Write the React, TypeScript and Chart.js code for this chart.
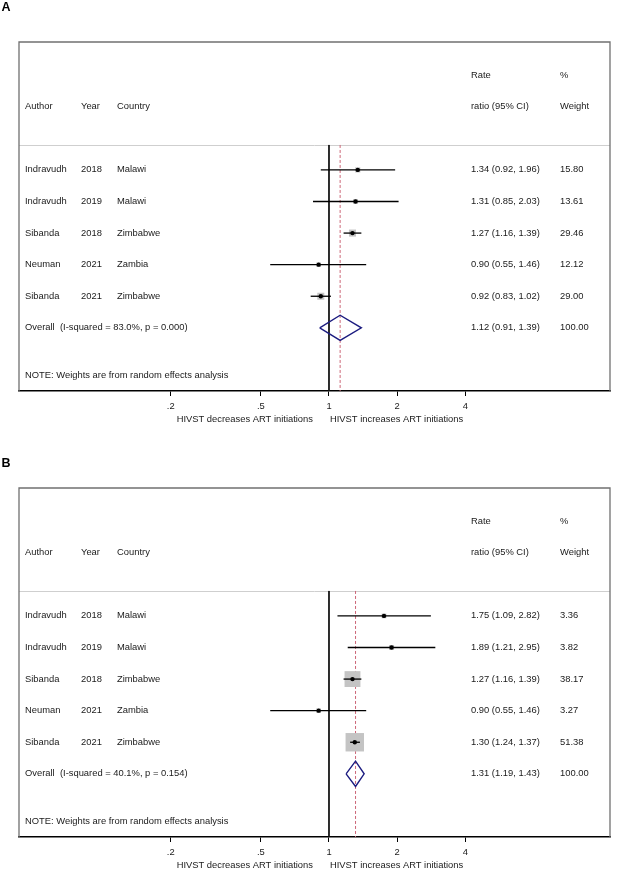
import React, { useEffect, useRef } from "react";
import { Chart, registerables } from "chart.js";

Chart.register(...registerables);

// ---------- data ----------
const AUTHORS = ["Indravudh", "Indravudh", "Sibanda", "Neuman", "Sibanda"];
const YEARS = ["2018", "2019", "2018", "2021", "2021"];
const COUNTRIES = ["Malawi", "Malawi", "Zimbabwe", "Zambia", "Zimbabwe"];

const A_EST = [1.34, 1.31, 1.27, 0.9, 0.92];
const A_LO = [0.92, 0.85, 1.16, 0.55, 0.83];
const A_HI = [1.96, 2.03, 1.39, 1.46, 1.02];
const A_WEIGHT = [15.8, 13.61, 29.46, 12.12, 29.0];
const A_OVERALL = [1.12, 0.91, 1.39];
const A_HET = "Overall  (I-squared = 83.0%, p = 0.000)";

const B_EST = [1.75, 1.89, 1.27, 0.9, 1.3];
const B_LO = [1.09, 1.21, 1.16, 0.55, 1.24];
const B_HI = [2.82, 2.95, 1.39, 1.46, 1.37];
const B_WEIGHT = [3.36, 3.82, 38.17, 3.27, 51.38];
const B_OVERALL = [1.31, 1.19, 1.43];
const B_HET = "Overall  (I-squared = 40.1%, p = 0.154)";

const TICKS = [0.2, 0.5, 1, 2, 4];
const TICK_LABELS = [".2", ".5", "1", "2", "4"];

const HEADER_TOP = ["", "", "", "Rate", "%"];
const HEADER_BOTTOM = ["Author", "Year", "Country", "ratio (95% CI)", "Weight"];
const NOTE = "NOTE: Weights are from random effects analysis";
const X_LEFT_LABEL = "HIVST decreases ART initiations";
const X_RIGHT_LABEL = "HIVST increases ART initiations";

// ---------- style ----------
const FONT = "'Liberation Sans', Arial, Helvetica, sans-serif";
const TEXT_COLOR = "#1a1a1a";
const FONT_SIZE = 9.4;
const CANVAS_W = 625;
const CANVAS_H = 446;
const COL_X = [25, 81, 117, 471, 560];
const Y_MIN = -4.05;
const Y_MAX = 7;
const SEP_ROW = -0.79;
const X_MIN = 0.0427;
const X_MAX = 17.44;

interface PanelProps {
  top: number;
  letter: string;
  letterY: number;
  est: number[];
  lo: number[];
  hi: number[];
  weight: number[];
  overall: number[];
  het: string;
  boxScale: number;
}

function Panel(p: PanelProps) {
  const ref = useRef<HTMLCanvasElement>(null);
  useEffect(() => {
    if (!ref.current) return;
    const n = p.est.length;
    const overallRow = n;
    const datasets: any[] = [];

    // dots (top)
    datasets.push({
      data: p.est.map((v, i) => ({ x: v, y: i })),
      pointStyle: "circle",
      pointRadius: 2.2,
      backgroundColor: "#000",
      borderWidth: 0,
      order: 1,
    });
    // CI lines
    p.est.forEach((_, i) => {
      datasets.push({
        data: [
          { x: p.lo[i], y: i },
          { x: p.hi[i], y: i },
        ],
        showLine: true,
        borderColor: "#000",
        borderWidth: 1.3,
        pointRadius: 0,
        order: 2,
      });
    });
    // weight squares
    datasets.push({
      data: p.est.map((v, i) => ({ x: v, y: i })),
      pointStyle: "rect",
      pointRadius: (ctx: any) =>
        (p.boxScale * Math.sqrt(p.weight[ctx.dataIndex] || 0)) / Math.SQRT2,
      backgroundColor: "#c4c4c4",
      borderWidth: 0,
      order: 3,
    });
    // diamond
    const h = 0.4;
    datasets.push({
      data: [
        { x: p.overall[1], y: overallRow },
        { x: p.overall[0], y: overallRow - h },
        { x: p.overall[2], y: overallRow },
        { x: p.overall[0], y: overallRow + h },
        { x: p.overall[1], y: overallRow },
      ],
      showLine: true,
      borderColor: "#1c1c80",
      borderWidth: 1.4,
      pointRadius: 0,
      tension: 0,
      order: 2,
    });
    // null line
    datasets.push({
      data: [
        { x: 1, y: SEP_ROW },
        { x: 1, y: Y_MAX },
      ],
      showLine: true,
      borderColor: "#111",
      borderWidth: 1,
      pointRadius: 0,
      order: 5,
    });
    // overall dashed line
    datasets.push({
      data: [
        { x: p.overall[0], y: SEP_ROW },
        { x: p.overall[0], y: Y_MAX },
      ],
      showLine: true,
      borderColor: "#cc6677",
      borderWidth: 1,
      borderDash: [3, 2],
      pointRadius: 0,
      order: 4,
    });

    const textPlugin = {
      id: "forestText",
      beforeDatasetsDraw(chart: any) {
        const { ctx, chartArea, scales } = chart;
        const y = scales.y;
        ctx.save();
        ctx.strokeStyle = "#cfcfcf";
        ctx.lineWidth = 1;
        ctx.beginPath();
        const sy = Math.round(y.getPixelForValue(SEP_ROW)) + 0.5;
        ctx.moveTo(chartArea.left, sy);
        ctx.lineTo(chartArea.right, sy);
        ctx.stroke();
        ctx.restore();
      },
      afterDraw(chart: any) {
        const { ctx, chartArea, scales } = chart;
        const y = scales.y;
        const x = scales.x;
        ctx.save();
        // frame (top, left, right)
        ctx.strokeStyle = "#707070";
        ctx.lineWidth = 1.3;
        ctx.beginPath();
        ctx.moveTo(chartArea.left, chartArea.bottom);
        ctx.lineTo(chartArea.left, chartArea.top);
        ctx.lineTo(chartArea.right, chartArea.top);
        ctx.lineTo(chartArea.right, chartArea.bottom);
        ctx.stroke();

        ctx.fillStyle = TEXT_COLOR;
        ctx.font = `${FONT_SIZE}px ${FONT}`;
        ctx.textBaseline = "middle";
        ctx.textAlign = "left";
        HEADER_TOP.forEach((t, c) => {
          if (t) ctx.fillText(t, COL_X[c], y.getPixelForValue(-3));
        });
        HEADER_BOTTOM.forEach((t, c) => {
          ctx.fillText(t, COL_X[c], y.getPixelForValue(-2));
        });
        p.est.forEach((v, i) => {
          const py = y.getPixelForValue(i);
          ctx.fillText(AUTHORS[i], COL_X[0], py);
          ctx.fillText(YEARS[i], COL_X[1], py);
          ctx.fillText(COUNTRIES[i], COL_X[2], py);
          ctx.fillText(
            `${v.toFixed(2)} (${p.lo[i].toFixed(2)}, ${p.hi[i].toFixed(2)})`,
            COL_X[3],
            py
          );
          ctx.fillText(p.weight[i].toFixed(2), COL_X[4], py);
        });
        const oy = y.getPixelForValue(overallRow);
        ctx.fillText(p.het, COL_X[0], oy);
        ctx.fillText(
          `${p.overall[0].toFixed(2)} (${p.overall[1].toFixed(2)}, ${p.overall[2].toFixed(2)})`,
          COL_X[3],
          oy
        );
        ctx.fillText("100.00", COL_X[4], oy);
        ctx.fillText(NOTE, COL_X[0], y.getPixelForValue(6.5));

        // axis titles
        const x1 = x.getPixelForValue(1);
        const ty = chartArea.bottom + 28;
        ctx.textAlign = "right";
        ctx.fillText(X_LEFT_LABEL, x1 - 16, ty);
        ctx.textAlign = "left";
        ctx.fillText(X_RIGHT_LABEL, x1 + 1, ty);

        // panel letter
        ctx.font = `bold 12.5px ${FONT}`;
        ctx.fillStyle = "#000";
        ctx.fillText(p.letter, 1.5, p.letterY);
        ctx.restore();
      },
    };

    const chart = new Chart(ref.current, {
      type: "scatter",
      data: { datasets },
      options: {
        animation: false,
        responsive: false,
        maintainAspectRatio: false,
        layout: { padding: { left: 19, top: 42, right: 15, bottom: 0 } },
        plugins: {
          legend: { display: false },
          tooltip: { enabled: false },
        },
        scales: {
          x: {
            type: "logarithmic",
            min: X_MIN,
            max: X_MAX,
            position: "bottom",
            afterFit: (s: any) => {
              s.height = 55;
            },
            afterBuildTicks: (s: any) => {
              s.ticks = TICKS.map((v) => ({ value: v }));
            },
            ticks: {
              autoSkip: false,
              maxRotation: 0,
              padding: 5,
              color: TEXT_COLOR,
              font: { family: FONT, size: FONT_SIZE },
              callback: (_v: any, i: number) => TICK_LABELS[i],
            },
            grid: {
              drawOnChartArea: false,
              drawTicks: true,
              tickLength: 5,
              color: "#000",
              lineWidth: 1,
            },
            border: { display: true, color: "#000", width: 1.5 },
          },
          y: {
            type: "linear",
            display: false,
            min: Y_MIN,
            max: Y_MAX,
            reverse: true,
          },
        },
      },
      plugins: [textPlugin],
    } as any);
    return () => chart.destroy();
  }, []);

  return (
    <canvas
      ref={ref}
      width={CANVAS_W}
      height={CANVAS_H}
      style={{
        position: "absolute",
        left: 0,
        top: p.top,
        width: CANVAS_W,
        height: CANVAS_H,
        display: "block",
      }}
    />
  );
}

export default function App() {
  return (
    <div
      style={{
        position: "fixed",
        left: 0,
        top: 0,
        width: 625,
        height: 887,
        overflow: "hidden",
        background: "#fff",
      }}
    >
      <Panel
        top={0}
        letter="A"
        letterY={8}
        est={A_EST}
        lo={A_LO}
        hi={A_HI}
        weight={A_WEIGHT}
        overall={A_OVERALL}
        het={A_HET}
        boxScale={1.3}
      />
      <Panel
        top={446}
        letter="B"
        letterY={17.5}
        est={B_EST}
        lo={B_LO}
        hi={B_HI}
        weight={B_WEIGHT}
        overall={B_OVERALL}
        het={B_HET}
        boxScale={2.57}
      />
    </div>
  );
}
